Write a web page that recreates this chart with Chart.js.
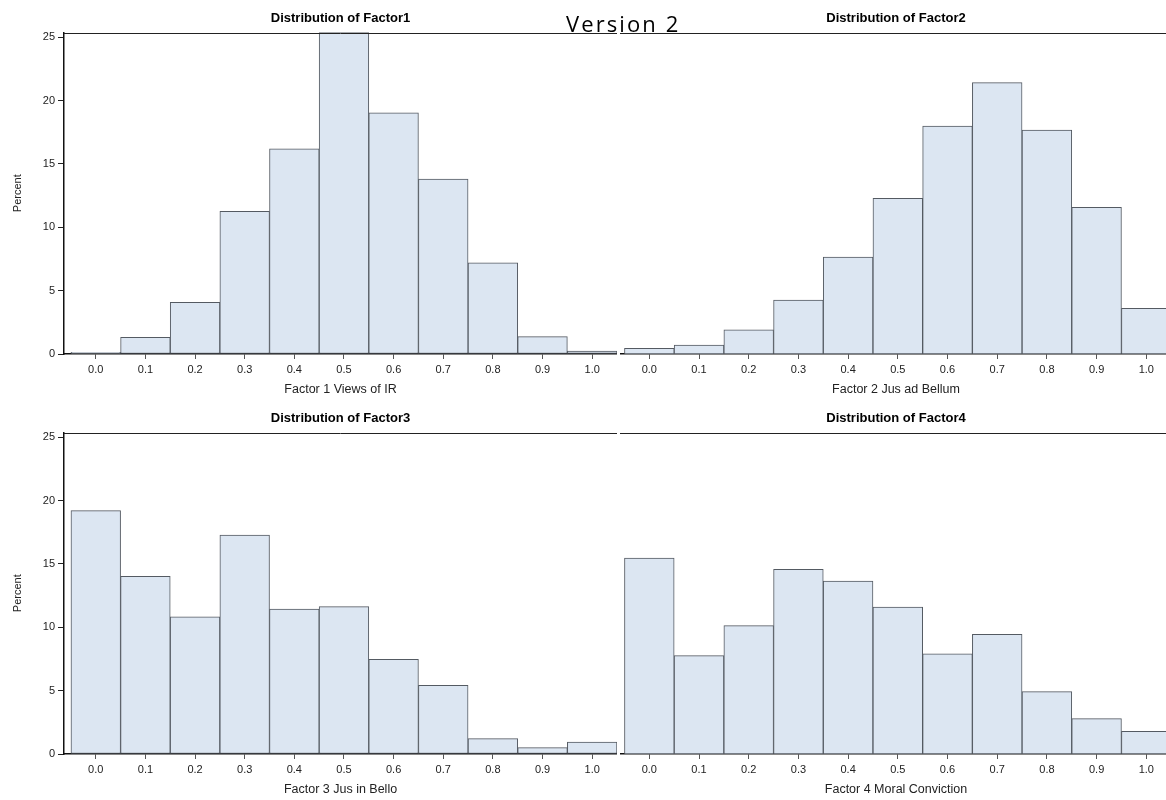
<!DOCTYPE html>
<html>
<head>
<meta charset="utf-8">
<script src="https://cdn.jsdelivr.net/npm/chart.js@4.4.0/dist/chart.umd.min.js"></script>
<style>
  html, body { margin: 0; padding: 0; background: #fff; }
  #page { position: relative; width: 1166px; height: 800px; overflow: hidden; }
  canvas { position: absolute; }
  #version {
    position: absolute; left: 566px; top: 12px;
    font-family: "Open Sans", sans-serif; font-size: 22px; line-height: 1;
    letter-spacing: 2.1px; color: #000; white-space: nowrap;
  }
</style>
</head>
<body>
<div id="page">
  <canvas id="c1" width="617" height="400" style="left:0;top:0"></canvas>
  <canvas id="c2" width="552" height="400" style="left:620px;top:0"></canvas>
  <canvas id="c3" width="617" height="400" style="left:0;top:400px"></canvas>
  <canvas id="c4" width="552" height="400" style="left:620px;top:400px"></canvas>
  <div id="version">Version 2</div>
</div>
<script>
// bin midpoints (x ticks) and y ticks
const binMids = [0.0, 0.1, 0.2, 0.3, 0.4, 0.5, 0.6, 0.7, 0.8, 0.9, 1.0];
const yTicks = [0, 5, 10, 15, 20, 25];

// percent per bin
const factor1 = [0.13, 1.32, 4.08, 11.26, 16.2, 25.4, 19.03, 13.8, 7.2, 1.37, 0.24];
const factor2 = [0.45, 0.71, 1.9, 4.26, 7.66, 12.29, 18.0, 21.42, 17.68, 11.58, 3.6];
const factor3 = [19.21, 14.03, 10.82, 17.29, 11.45, 11.63, 7.47, 5.42, 1.21, 0.5, 0.95];
const factor4 = [15.47, 7.76, 10.13, 14.58, 13.66, 11.6, 7.9, 9.45, 4.92, 2.79, 1.79];

const titles = ['Distribution of Factor1', 'Distribution of Factor2', 'Distribution of Factor3', 'Distribution of Factor4'];
const xTitles = ['Factor 1 Views of IR', 'Factor 2 Jus ad Bellum', 'Factor 3 Jus in Bello', 'Factor 4 Moral Conviction'];

const FONT = 'Liberation Sans, Arial, sans-serif';

// top line of the plot frame
const frameTop = {
    id: 'frameTop',
    afterDraw(chart) {
        const { ctx, chartArea } = chart;
        const y = Math.round(chartArea.top) + 0.5;
        ctx.save();
        ctx.strokeStyle = '#222';
        ctx.lineWidth = 1;
        ctx.beginPath();
        ctx.moveTo(chartArea.left, y);
        ctx.lineTo(chartArea.right, y);
        ctx.stroke();
        ctx.restore();
    }
};

function makeChart(id, values, title, xTitle, showY) {
    const ctx = document.getElementById(id).getContext('2d');
    const xMin = showY ? -0.064 : -0.059;
    const xMax = showY ? 1.05 : 1.0517;
    return new Chart(ctx, {
        type: 'bar',
        data: {
            datasets: [{
                data: binMids.map((x, i) => ({ x: x, y: values[i] })),
                backgroundColor: 'rgb(220, 230, 242)',
                borderColor: 'rgb(84, 90, 98)',
                borderWidth: 1,
                borderSkipped: false,
                barPercentage: 1,
                categoryPercentage: 1
            }]
        },
        options: {
            responsive: false,
            animation: false,
            layout: { padding: 0 },
            plugins: {
                legend: { display: false },
                tooltip: { enabled: false },
                title: {
                    display: true,
                    text: title,
                    fullSize: false,
                    color: '#000',
                    font: { size: 13, weight: 'bold', family: FONT },
                    padding: { top: 10.5, bottom: 6.4 }
                }
            },
            scales: {
                x: {
                    type: 'linear',
                    min: xMin,
                    max: xMax,
                    offset: false,
                    afterBuildTicks: s => { s.ticks = binMids.map(v => ({ value: v })); },
                    afterFit: s => { s.height = 46; },
                    ticks: {
                        autoSkip: false,
                        maxRotation: 0,
                        padding: 4,
                        color: '#222',
                        font: { size: 11, family: FONT },
                        callback: v => Number(v).toFixed(1)
                    },
                    grid: { drawOnChartArea: false, offset: false, tickLength: 5, color: '#555' },
                    border: { color: '#111', width: 1.5 },
                    title: {
                        display: true,
                        text: xTitle,
                        color: '#222',
                        font: { size: 12.5, family: FONT },
                        padding: { top: 0, bottom: 2.5 }
                    }
                },
                y: {
                    display: showY,
                    min: 0,
                    max: 25.38,
                    afterBuildTicks: s => { s.ticks = yTicks.map(v => ({ value: v })); },
                    afterFit: s => { s.width = showY ? 64 : 0; },
                    ticks: { padding: 3, color: '#222', font: { size: 11, family: FONT } },
                    grid: { drawOnChartArea: false, tickLength: 6, color: '#222' },
                    border: { color: '#111', width: 1.5 },
                    title: {
                        display: showY,
                        text: 'Percent',
                        color: '#222',
                        font: { size: 11, family: FONT },
                        padding: { top: 11.4, bottom: 0 }
                    }
                }
            }
        },
        plugins: [frameTop]
    });
}

makeChart('c1', factor1, titles[0], xTitles[0], true);
makeChart('c2', factor2, titles[1], xTitles[1], false);
makeChart('c3', factor3, titles[2], xTitles[2], true);
makeChart('c4', factor4, titles[3], xTitles[3], false);
</script>
</body>
</html>
